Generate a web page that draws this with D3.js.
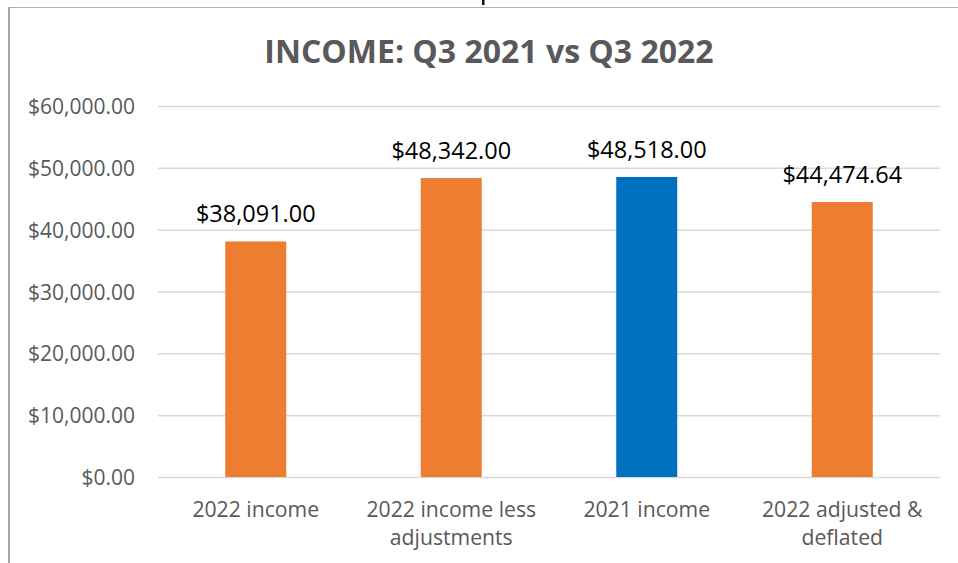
<!DOCTYPE html>
<html>
<head>
<meta charset="utf-8">
<script src="https://cdn.jsdelivr.net/npm/d3@7"></script>
<style>
  body { margin: 0; background: #fff; }
  svg { display: block; font-family: "Open Sans", sans-serif; }
</style>
</head>
<body>
<svg id="chart"></svg>
<script>
// chart data
const categories = ['2022 income', '2022 income less adjustments', '2021 income', '2022 adjusted & deflated'];
const categoryLines = [['2022 income'], ['2022 income less', 'adjustments'], ['2021 income'], ['2022 adjusted &', 'deflated']];
const values = [38091, 48342, 48518, 44474.64];
const barColours = ['#ED7D31', '#ED7D31', '#0070C0', '#ED7D31'];
const yTicks = [0, 10000, 20000, 30000, 40000, 50000, 60000];
const titleText = 'INCOME: Q3 2021 vs Q3 2022';

const width = 958, height = 563;
const plot = { left: 158, right: 940, top: 106, bottom: 477 };

const svg = d3.select('#chart')
  .attr('width', width)
  .attr('height', height);

// chart frame (cut off at the top and right of the screenshot)
svg.append('line')
  .attr('x1', 9).attr('x2', width)
  .attr('y1', 7.5).attr('y2', 7.5)
  .attr('stroke', '#b0b0b0').attr('stroke-width', 1);
svg.append('line')
  .attr('x1', 9).attr('x2', 9)
  .attr('y1', 7).attr('y2', height)
  .attr('stroke', '#a6a6a6').attr('stroke-width', 2);

// stray glyph stroke from whatever sits above the frame
svg.append('rect')
  .attr('x', 482).attr('y', 0)
  .attr('width', 2.5).attr('height', 5)
  .attr('fill', '#111');

const x = d3.scaleBand()
  .domain(categories)
  .range([plot.left, plot.right])
  .paddingInner(0.688)
  .paddingOuter(0.344);

const y = d3.scaleLinear()
  .domain([0, 60000])
  .range([plot.bottom, plot.top]);

const money = v => '$' + d3.format(',.2f')(v);

// gridlines
const grid = svg.append('g')
  .attr('transform', `translate(${plot.left},0)`)
  .call(d3.axisLeft(y).tickValues(yTicks).tickSize(-(plot.right - plot.left)).tickFormat(''));
grid.select('.domain').remove();
grid.selectAll('line').attr('stroke', '#d9d9d9').attr('stroke-width', 1.5);

// y tick labels
const yAxis = svg.append('g')
  .attr('transform', `translate(${plot.left},0)`)
  .call(d3.axisLeft(y).tickValues(yTicks).tickSize(0).tickPadding(23).tickFormat(money));
yAxis.select('.domain').remove();
yAxis.selectAll('text')
  .attr('font-family', '"Open Sans", sans-serif')
  .attr('font-size', 21)
  .attr('fill', '#595959')
  .attr('dy', '0.36em');

// bars
svg.append('g')
  .selectAll('rect')
  .data(values)
  .enter().append('rect')
  .attr('x', (d, i) => x(categories[i]))
  .attr('y', d => y(d))
  .attr('width', x.bandwidth())
  .attr('height', d => y(0) - y(d))
  .attr('fill', (d, i) => barColours[i]);

// data labels
svg.append('g')
  .selectAll('text')
  .data(values)
  .enter().append('text')
  .attr('x', (d, i) => x(categories[i]) + x.bandwidth() / 2)
  .attr('y', d => y(d) - 19)
  .attr('text-anchor', 'middle')
  .attr('font-size', 23.5)
  .attr('fill', '#000')
  .text(d => money(d));

// category labels
const catLabels = svg.append('g')
  .selectAll('text')
  .data(categories)
  .enter().append('text')
  .attr('x', d => x(d) + x.bandwidth() / 2)
  .attr('y', plot.bottom + 40)
  .attr('text-anchor', 'middle')
  .attr('font-size', 21.2)
  .attr('fill', '#595959');
catLabels.each(function(d, i) {
  d3.select(this).selectAll('tspan')
    .data(categoryLines[i])
    .enter().append('tspan')
    .attr('x', x(d) + x.bandwidth() / 2)
    .attr('dy', (t, j) => j === 0 ? 0 : 27.5)
    .text(t => t);
});

// title
svg.append('text')
  .attr('x', 489)
  .attr('y', 63)
  .attr('text-anchor', 'middle')
  .attr('font-size', 32)
  .attr('font-weight', 'bold')
  .attr('fill', '#595959')
  .text(titleText);
</script>
</body>
</html>
